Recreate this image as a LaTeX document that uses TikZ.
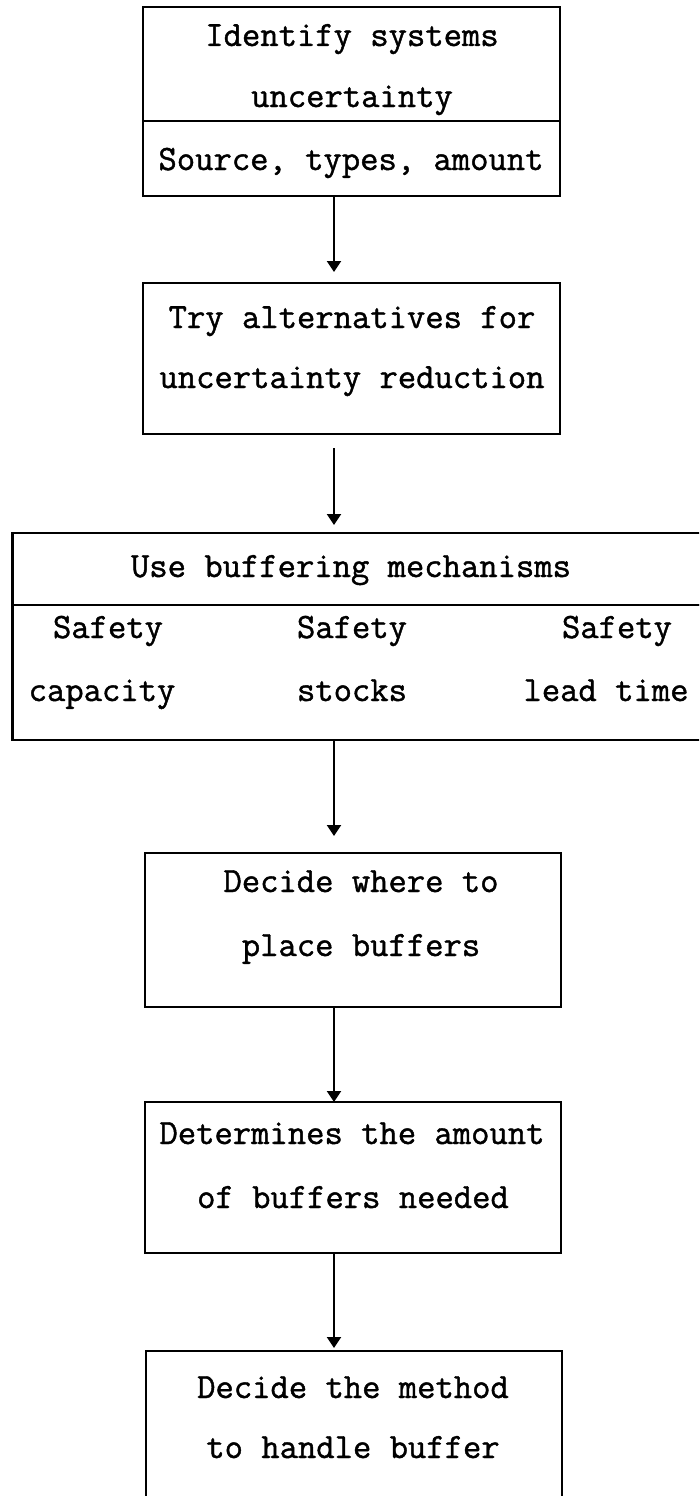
\documentclass[tikz,border=0pt]{standalone}
\usepackage{fontspec}
\newfontfamily\boxfont{Latin Modern Mono}[BoldFont={Latin Modern Mono}, BoldFeatures={FakeBold=1.2}]
\usetikzlibrary{arrows.meta}
\begin{document}
\begin{tikzpicture}[x=1pt,y=-1pt,
  box/.style={draw, line width=2.8pt, rectangle, inner sep=0pt, outer sep=0pt, anchor=north west},
  lbl/.style={font=\boxfont\bfseries\fontsize{35.6}{35.6}\selectfont, inner sep=0pt, anchor=base},
  arr/.style={line width=2pt, -{Triangle[length=11pt,width=14pt]}}]
\useasboundingbox (0,0) rectangle (699,1496);
\clip (0,0) rectangle (699,1496);

% frames
\node[box, minimum width=417pt, minimum height=114pt] (b1top) at (143,7) {};
\node[box, minimum width=417pt, minimum height=75pt]  (b1bot) at (143,121) {};
\node[box, minimum width=417pt, minimum height=151pt] (b2)    at (143,283) {};
\node[box, minimum width=700pt, minimum height=72pt]  (b3top) at (12.5,533) {};
\node[box, minimum width=700pt, minimum height=135pt] (b3bot) at (12.5,605) {};
\node[box, minimum width=416pt, minimum height=154pt] (b4)    at (145,853) {};
\node[box, minimum width=416pt, minimum height=151pt] (b5)    at (145,1102) {};
\node[box, minimum width=416pt, minimum height=200pt] (b6)    at (146,1351) {};

% labels
\node[lbl] (t1a) at (352,46)  {Identify systems};
\node[lbl] (t1b) at (352,107) {uncertainty};
\node[lbl] (t1c) at (351,170) {Source, types, amount};

\node[lbl] (t2a) at (352,328) {Try alternatives for};
\node[lbl] (t2b) at (352,388) {uncertainty reduction};

\node[lbl] (t3a) at (351,577) {Use buffering mechanisms};
\node[lbl] (t3b) at (108,638) {Safety};
\node[lbl] (t3c) at (352,638) {Safety};
\node[lbl] (t3d) at (617,638) {Safety};
\node[lbl] (t3e) at (102,701) {capacity};
\node[lbl] (t3f) at (352,701) {stocks};
\node[lbl] (t3g) at (606,701) {lead time};

\node[lbl] (t4a) at (361,892) {Decide where to};
\node[lbl] (t4b) at (361,956) {place buffers};

\node[lbl] (t5a) at (352,1144) {Determines the amount};
\node[lbl] (t5b) at (353,1208) {of buffers needed};

\node[lbl] (t6a) at (353,1398) {Decide the method};
\node[lbl] (t6b) at (353,1458) {to handle buffer};

% connectors
\coordinate (spine) at (334,0);
\draw[arr, shorten >=11pt] (b1bot.south -| spine) -- (b2.north -| spine);
\draw[arr, shorten <=14pt, shorten >=8pt] (b2.south -| spine) -- (b3top.north -| spine);
\draw[arr, shorten >=17pt] (b3bot.south -| spine) -- (b4.north -| spine);
\draw[arr] (b4.south -| spine) -- (b5.north -| spine);
\draw[arr, shorten >=3pt] (b5.south -| spine) -- (b6.north -| spine);
\end{tikzpicture}
\end{document}
